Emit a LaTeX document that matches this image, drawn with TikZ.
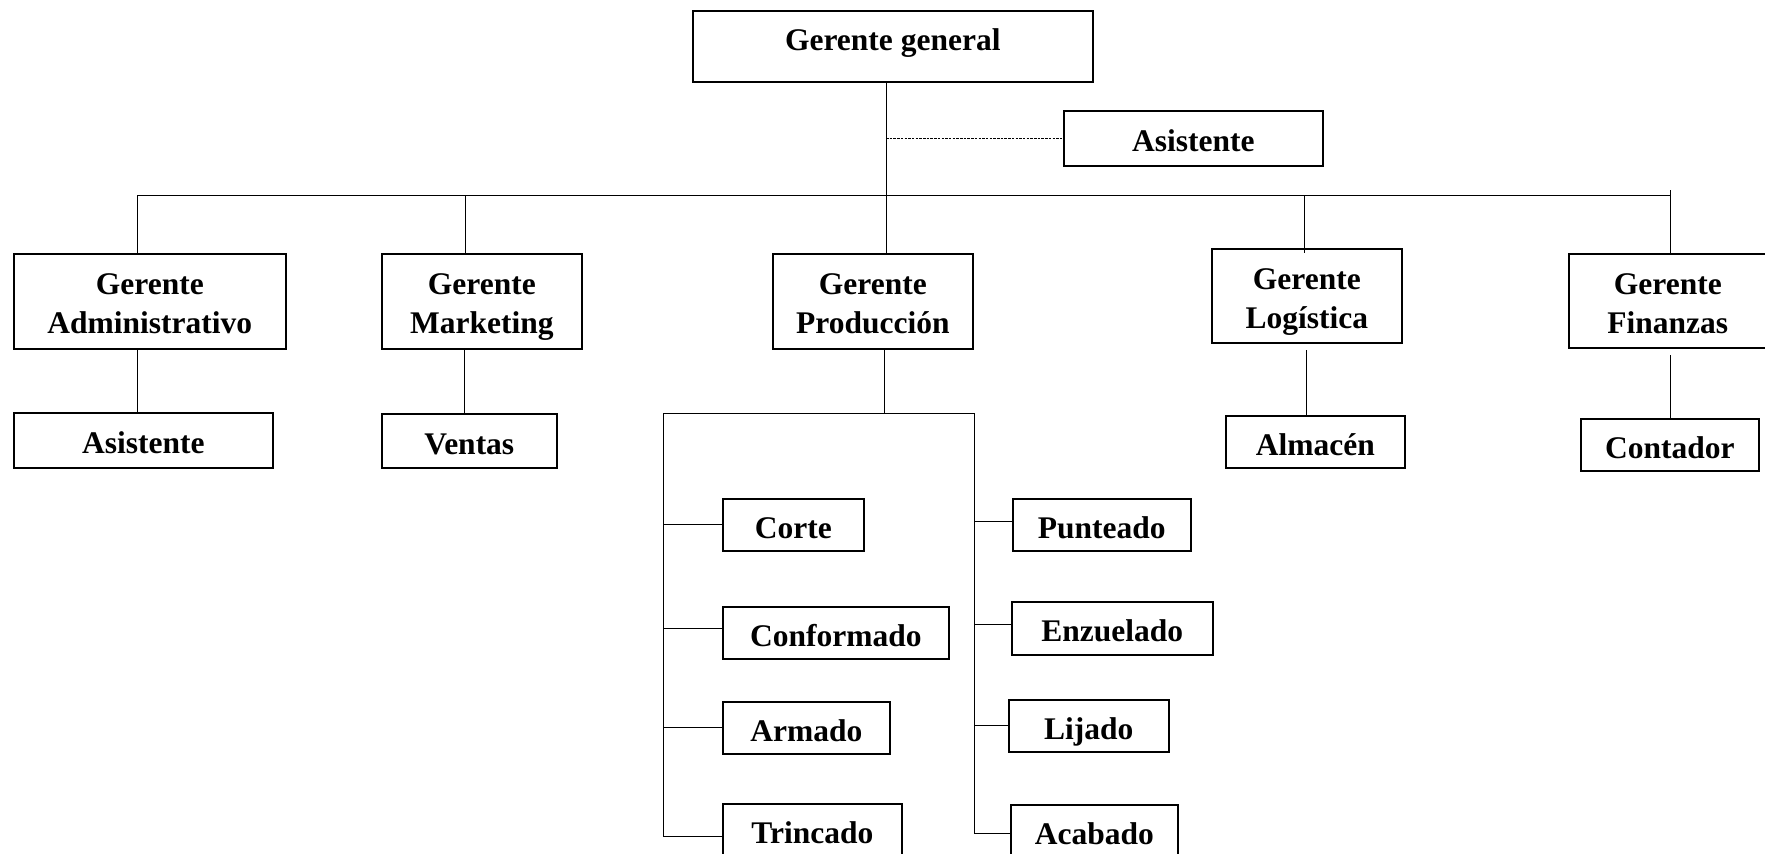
\documentclass[tikz,border=0pt]{standalone}
\usepackage{fontspec}
\setmainfont{Liberation Serif}
\begin{document}
\begin{tikzpicture}[x=1pt,y=-1pt,
  box/.style={draw, line width=1.6pt, inner sep=0pt, anchor=north west, align=center,
    font=\bfseries\fontsize{31.5}{39}\selectfont, text depth=0pt},
  onel/.style={box, text height=27pt},
  twol/.style={box, text height=65pt},
  conn/.style={line width=1pt},
  dotconn/.style={line width=0.9pt, dash pattern=on 2.5pt off 1.2pt}]
\useasboundingbox (0,0) rectangle (1765,854);

% boxes
\node[box, text height=9pt, minimum width=400pt, minimum height=71pt] (gg) at (692,10) {Gerente general};
\node[onel, minimum width=259pt, minimum height=55pt] (as1) at (1063,110) {Asistente};
\node[twol, minimum width=272pt, minimum height=95pt] (ga) at (13,253) {Gerente\\Administrativo};
\node[twol, minimum width=200pt, minimum height=95pt] (gm) at (381,253) {Gerente\\Marketing};
\node[twol, minimum width=200pt, minimum height=95pt] (gp) at (772,253) {Gerente\\Producción};
\node[twol, minimum width=190pt, minimum height=94pt] (gl) at (1211,248) {Gerente\\Logística};
\node[twol, minimum width=198pt, minimum height=94pt] (gf) at (1568,253) {Gerente\\Finanzas};
\node[onel, minimum width=259pt, minimum height=55pt] (as2) at (13,412) {Asistente};
\node[onel, minimum width=175pt, minimum height=54pt] (ve) at (381,413) {Ventas};
\node[onel, minimum width=179pt, minimum height=52pt] (al) at (1225,415) {Almacén};
\node[onel, minimum width=178pt, minimum height=52pt] (co) at (1580,418) {Contador};
\node[onel, minimum width=141pt, minimum height=52pt] (c1) at (722,498) {Corte};
\node[onel, minimum width=226pt, minimum height=52pt] (c2) at (722,606) {Conformado};
\node[onel, minimum width=167pt, minimum height=52pt] (c3) at (722,701) {Armado};
\node[onel, minimum width=179pt, minimum height=53pt] (c4) at (722,803) {Trincado};
\node[onel, minimum width=178pt, minimum height=52pt] (d1) at (1012,498) {Punteado};
\node[onel, minimum width=201pt, minimum height=53pt] (d2) at (1011,601) {Enzuelado};
\node[onel, minimum width=160pt, minimum height=52pt] (d3) at (1008,699) {Lijado};
\node[onel, minimum width=167pt, minimum height=52pt] (d4) at (1010,804) {Acabado};

% coordinates of the main bus
\coordinate (dA) at (137,195);
\coordinate (dM) at (465,195);
\coordinate (dP) at (886,195);
\coordinate (dL) at (1304,195);
\coordinate (dF) at (1670,195);
\coordinate (dFt) at (1670,190);
% production sub-bus
\coordinate (pL) at (663,413);
\coordinate (pM) at (884,413);
\coordinate (pR) at (974,413);
\coordinate (pLb) at (663,836);
\coordinate (pRb) at (974,834);
% lower drops
\coordinate (lA) at (137,350);
\coordinate (lM) at (464,348);
\coordinate (lL) at (1306,350);
\coordinate (lF) at (1670,355);

% trunk and bus
\draw[conn] (gg.south -| dP) -- (gp.north -| dP);
\draw[dotconn] (as1.west -| dP) -- (as1.west);
\draw[conn] (dA) -- (dF);
\draw[conn] (dA) -- (ga.north -| dA);
\draw[conn] (dM) -- (gm.north -| dM);
\draw[conn] (dL) -- ([yshift=-5pt]gl.north -| dL);
\draw[conn] (dFt) -- (gf.north -| dFt);

% second level
\draw[conn] (lA) -- (as2.north -| lA);
\draw[conn] (lM) -- (ve.north -| lM);
\draw[conn] (lL) -- (al.north -| lL);
\draw[conn] (lF) -- (co.north -| lF);
\draw[conn] (gp.south -| pM) -- (pM);
\draw[conn] (pL) -- (pR);
\draw[conn] (pL) -- (pLb);
\draw[conn] (pR) -- (pRb);

% production stubs
\draw[conn] (c1.west -| pL) -- (c1.west);
\draw[conn] ([yshift=4pt]c2.west -| pL) -- ([yshift=4pt]c2.west);
\draw[conn] (c3.west -| pL) -- (c3.west);
\draw[conn] ([yshift=-6.5pt]c4.west -| pL) -- ([yshift=-6.5pt]c4.west);
\draw[conn] ([yshift=3pt]d1.west -| pR) -- ([yshift=3pt]d1.west);
\draw[conn] ([yshift=3.5pt]d2.west -| pR) -- ([yshift=3.5pt]d2.west);
\draw[conn] (d3.west -| pR) -- (d3.west);
\draw[conn] ([yshift=-3pt]d4.west -| pR) -- ([yshift=-3pt]d4.west);
\end{tikzpicture}
\end{document}
